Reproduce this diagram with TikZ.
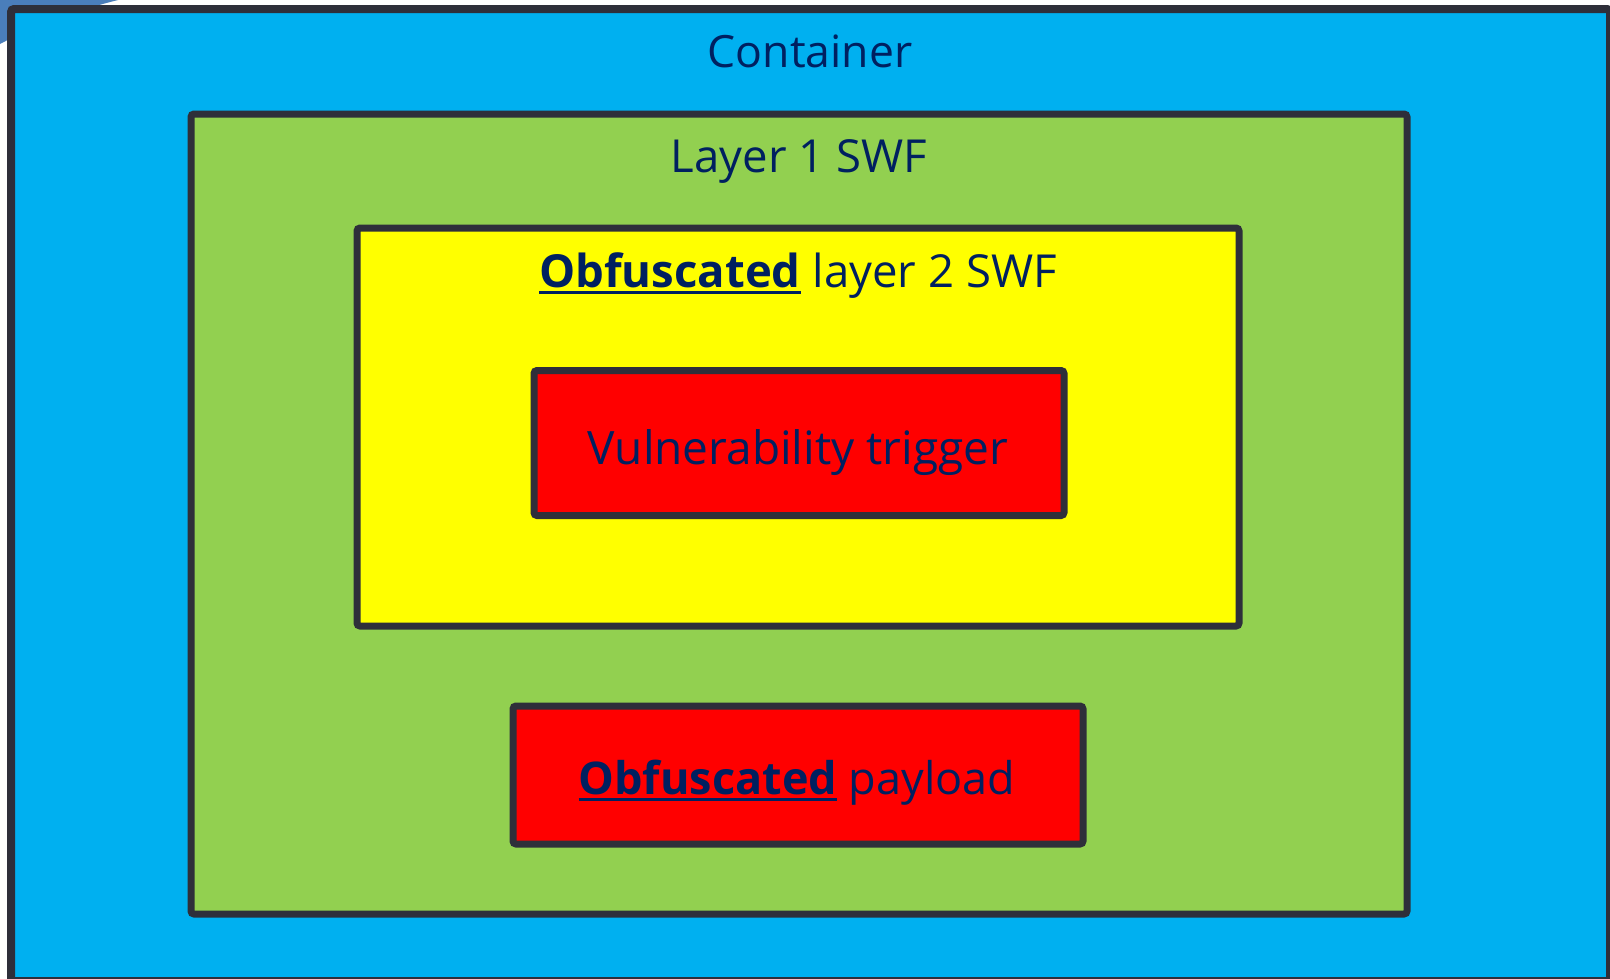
\documentclass[tikz,border=0pt]{standalone}
\usepackage{fontspec}
\setmainfont{Open Sans}
\definecolor{contblue}{HTML}{00B0F0}
\definecolor{laygreen}{HTML}{92D050}
\definecolor{obfyellow}{HTML}{FFFF00}
\definecolor{trigred}{HTML}{FF0000}
\definecolor{edgegray}{HTML}{2E2F3A}
\definecolor{navy}{HTML}{002060}
\definecolor{swoosh}{HTML}{4A7EBB}
\newsavebox{\obfbox}
\newcommand{\obf}{\sbox{\obfbox}{\textbf{Obfuscated}}\rlap{\raisebox{-7pt}{\rule{\wd\obfbox}{3pt}}}\usebox{\obfbox}}
\tikzset{
  box/.style={draw=edgegray, rounded corners=3pt, line width=7pt},
  lbl/.style={anchor=base, text=navy, inner sep=0pt, font=\fontsize{45.5}{52}\selectfont},
  contlbl/.style={lbl, font=\fontsize{44.5}{52}\selectfont},
  biglbl/.style={lbl, font=\fontsize{46}{54}\selectfont},
  paylbl/.style={lbl, font=\fontsize{45}{54}\selectfont},
}
\begin{document}
\begin{tikzpicture}[x=1pt,y=-1pt]
\useasboundingbox (0,0) rectangle (1610,978);
\fill[white] (0,0) rectangle (1610,978);
\fill[swoosh] (0,0) -- (118,0) .. controls (70,12) and (30,28) .. (0,44) -- cycle;
% boxes
\draw[box, line width=8pt, fill=contblue] (11,9) rectangle (1610,981);
\node[box, fill=laygreen, minimum width=1216pt, minimum height=800pt] (layer1) at (799,514) {};
\node[box, fill=obfyellow, minimum width=882pt, minimum height=398pt] (layer2) at (798,427) {};
\node[box, fill=trigred, minimum width=530pt, minimum height=145pt] (trigger) at (799,443) {};
\node[box, fill=trigred, minimum width=570pt, minimum height=138pt] (payload) at (798,775) {};
% labels
\node[contlbl] (tcont) at (810,67) {Container};
\node[lbl] (tlay1) at (799,172) {Layer 1 SWF};
\node[lbl] (tlay2) at (798,287) {\obf{} layer 2 SWF};
\node[biglbl] (ttrig) at (798,464) {Vulnerability trigger};
\node[paylbl] (tpay) at (797,794) {\obf{} payload};
\end{tikzpicture}
\end{document}
